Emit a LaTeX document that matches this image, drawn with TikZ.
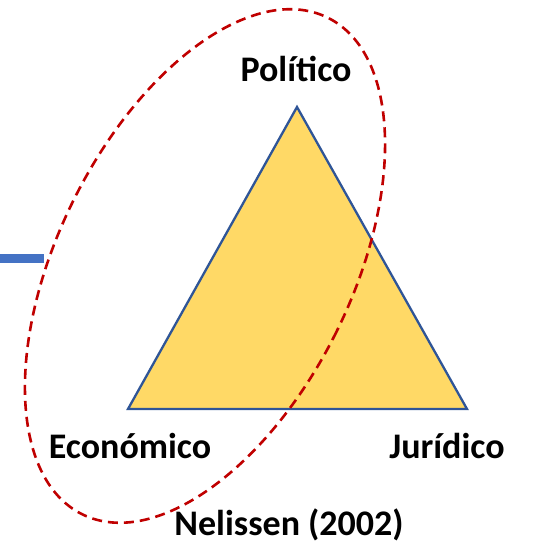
\documentclass[tikz,border=0pt]{standalone}
\usepackage{fontspec}
\setmainfont{Carlito}
\definecolor{triFill}{HTML}{FFD966}
\definecolor{triLine}{HTML}{2F5597}
\definecolor{dashRed}{HTML}{C00000}
\definecolor{arrBlue}{HTML}{4472C4}
\begin{document}
\begin{tikzpicture}[x=1pt,y=-1pt,
  lbl/.style={font=\fontsize{36}{40}\selectfont\bfseries, anchor=base, inner sep=0pt},
  tri/.style={fill=triFill, draw=triLine, line width=2.3pt, line join=miter},
  ring/.style={draw=dashRed, line width=2.6pt, dash pattern=on 10pt off 6pt},
  stub/.style={draw=arrBlue, line width=9pt}]
\useasboundingbox (0,0) rectangle (533,544);
\coordinate (T) at (297,107);
\coordinate (L) at (128,409);
\coordinate (R) at (467,409);
\filldraw[tri] (T) -- (L) -- (R) -- cycle;
\coordinate (C) at (205,266);
\draw[ring, rotate around={-26.3:(C)}] (C) ellipse [x radius=147, y radius=277];
\coordinate (s0) at (0,258);
\coordinate (s1) at (44,258);
\draw[stub] (s0) -- (s1);
\node[lbl] (pol) at (296,81) {Político};
\node[lbl] (eco) at (130,458) {Económico};
\node[lbl] (jur) at (447,458) {Jurídico};
\node[lbl] (nel) at (289,535) {Nelissen (2002)};
\end{tikzpicture}
\end{document}
